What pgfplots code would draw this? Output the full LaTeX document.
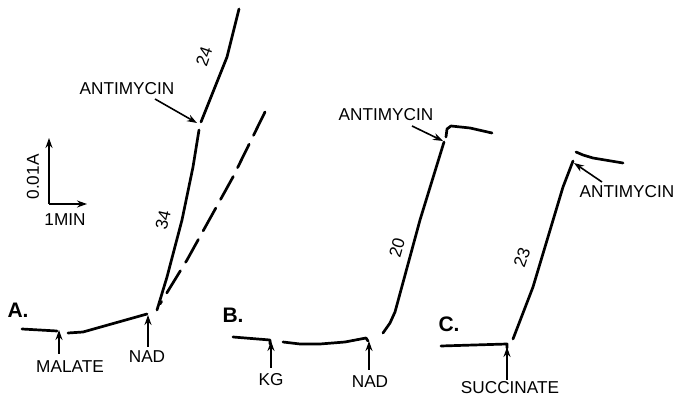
\documentclass[border=0pt]{standalone}
\usepackage{pgfplots}
\pgfplotsset{compat=1.18}
\usepackage{fontspec}
\setmainfont{Liberation Sans}
\usetikzlibrary{arrows.meta}
\tikzset{
  trace/.style={black, line width=1.35pt, line cap=round, line join=round},
  arr/.style={black, line width=0.8pt, -{Stealth[length=5pt,width=3.5pt]}},
  lab/.style={font=\fontsize{8.6}{10}\selectfont, inner sep=0pt},
  big/.style={font=\fontsize{10.5}{12}\selectfont\bfseries, inner sep=0pt},
}
\begin{document}
\begin{tikzpicture}
\begin{axis}[
  scale only axis, width=337.5pt, height=200pt,
  xmin=0, xmax=675, ymin=0, ymax=400, y dir=reverse,
  axis lines=none, clip=false,
]
% ---- Trace A ----
\addplot[trace] coordinates {(22,329) (57,331)};
\addplot[trace] coordinates {(68,333) (83,332) (147,314)};
\addplot[trace] coordinates {(157,310) (167,277) (182,220) (193,167) (199,130)};
\addplot[trace] coordinates {(201,122) (207,107) (227,57) (239,9)};
\addplot[trace, dash pattern=on 13pt off 5pt] coordinates {(265,112) (233,177) (187,260) (160,304)};
% ---- Trace B ----
\addplot[trace] coordinates {(233,337) (270,340) (270,344)};
\addplot[trace] coordinates {(283,342) (300,344) (320,344) (345,342) (366,338) (368,341)};
\addplot[trace] coordinates {(383,333) (390,323) (395,312) (420,220) (444,142)};
\addplot[trace] coordinates {(446,137) (447,129) (451,126) (470,128) (492,133)};
% ---- Trace C ----
\addplot[trace] coordinates {(441,346) (507,344) (507,348)};
\addplot[trace] coordinates {(513,339) (533,287) (563,187) (573,161)};
\addplot[trace] coordinates {(576,152) (583,155) (593,158) (623,163)};
% ---- Arrows ----
\addplot[arr] coordinates {(155,99) (197,123)};
\addplot[arr] coordinates {(59,354) (59,330)};
\addplot[arr] coordinates {(148,347) (148,315)};
\addplot[arr] coordinates {(49,204) (49,138)};
\addplot[arr] coordinates {(49,204) (87,204)};
\addplot[arr] coordinates {(271,368) (271,341)};
\addplot[arr] coordinates {(369,370) (369,341)};
\addplot[arr] coordinates {(412,126) (443,141)};
\addplot[arr] coordinates {(602,182) (574,163)};
\addplot[arr] coordinates {(507,380) (507,347)};
% ---- Labels ----
\node[lab] at (axis cs:127,89) {ANTIMYCIN};
\node[lab, rotate=90] at (axis cs:33,177) {0.01A};
\node[lab] at (axis cs:65,220) {1MIN};
\node[big] at (axis cs:18,310) {A.};
\node[lab, rotate=77] at (axis cs:163,220) {34};
\node[lab, rotate=71] at (axis cs:204,57) {24};
\node[lab] at (axis cs:70,367) {MALATE};
\node[lab] at (axis cs:147,357) {NAD};
\node[big] at (axis cs:233,315) {B.};
\node[lab] at (axis cs:271,380) {KG};
\node[lab] at (axis cs:370,382) {NAD};
\node[lab] at (axis cs:386,115) {ANTIMYCIN};
\node[lab, rotate=74] at (axis cs:397,248) {20};
\node[big] at (axis cs:449,324) {C.};
\node[lab, rotate=71] at (axis cs:522,258) {23};
\node[lab] at (axis cs:627,192) {ANTIMYCIN};
\node[lab] at (axis cs:510,388) {SUCCINATE};
\end{axis}
\pgfresetboundingbox
\useasboundingbox (current axis.south west) rectangle (current axis.north east);
\end{tikzpicture}
\end{document}
